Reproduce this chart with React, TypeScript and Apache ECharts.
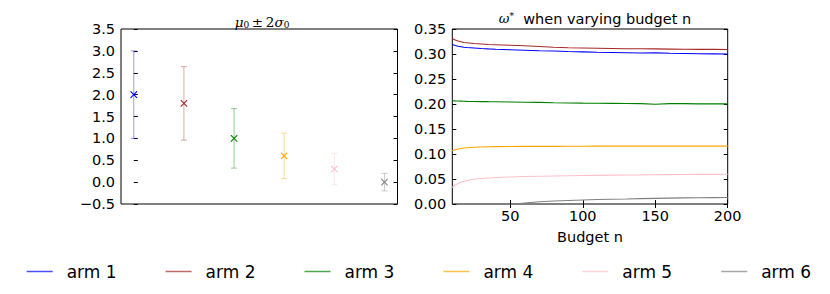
import React, { useEffect, useRef } from "react";
import * as echarts from "echarts";

const arms = ["arm 1", "arm 2", "arm 3", "arm 4", "arm 5", "arm 6"];
const armColors = ["#0000ff", "#a52a2a", "#008000", "#ffa500", "#ffc0cb", "#808080"];

// left panel: mu0 +- 2 sigma0
const mu0 = [2.0, 1.8, 1.0, 0.6, 0.3, 0.0];
const twoSigma0 = [1.0, 0.84, 0.68, 0.52, 0.36, 0.2];

// right panel: omega* vs budget n
const budget = [10, 12, 14, 16, 18, 20, 25, 30, 35, 40, 50, 60, 70, 80, 90, 100, 110, 120, 130, 140, 150, 160, 170, 180, 190, 200];
const omegaArm1 = [0.319, 0.317, 0.3155, 0.3145, 0.3135, 0.313, 0.312, 0.311, 0.3102, 0.3095, 0.3085, 0.3075, 0.3065, 0.306, 0.305, 0.3042, 0.3035, 0.303, 0.3025, 0.302, 0.3022, 0.3015, 0.301, 0.3005, 0.3003, 0.3];
const omegaArm2 = [0.331, 0.328, 0.326, 0.3245, 0.323, 0.3225, 0.321, 0.32, 0.319, 0.3185, 0.3175, 0.3165, 0.315, 0.3135, 0.3125, 0.312, 0.3115, 0.311, 0.3105, 0.3105, 0.3102, 0.3098, 0.3095, 0.3093, 0.3092, 0.309];
const omegaArm3 = [0.2065, 0.2062, 0.206, 0.2058, 0.2055, 0.2053, 0.205, 0.2048, 0.2046, 0.2045, 0.204, 0.2035, 0.2032, 0.2025, 0.202, 0.2017, 0.2015, 0.2013, 0.201, 0.2008, 0.1995, 0.2008, 0.2006, 0.2004, 0.2003, 0.2002];
const omegaArm4 = [0.1065, 0.1085, 0.11, 0.111, 0.112, 0.1125, 0.1135, 0.114, 0.1145, 0.1148, 0.115, 0.1152, 0.1153, 0.1154, 0.1155, 0.1155, 0.1156, 0.1156, 0.1156, 0.1157, 0.1157, 0.1157, 0.1157, 0.1157, 0.1157, 0.1157];
const omegaArm5 = [0.033, 0.038, 0.041, 0.0435, 0.0455, 0.047, 0.0495, 0.051, 0.052, 0.053, 0.054, 0.055, 0.0555, 0.056, 0.0565, 0.057, 0.0573, 0.0577, 0.058, 0.0582, 0.0585, 0.0587, 0.059, 0.0592, 0.0594, 0.0595];
const omegaArm6 = [-0.06, -0.05, -0.043, -0.037, -0.032, -0.028, -0.02, -0.014, -0.01, -0.006, -0.001, 0.002, 0.0045, 0.006, 0.007, 0.008, 0.009, 0.0095, 0.01, 0.0108, 0.0113, 0.0118, 0.0122, 0.0125, 0.0128, 0.013];
const omegaSeries = [omegaArm1, omegaArm2, omegaArm3, omegaArm4, omegaArm5, omegaArm6];

const budgetTicks = [50, 100, 150, 200];

const FONT = "DejaVu Sans";

export default function App() {
  const ref = useRef<HTMLDivElement>(null);
  useEffect(() => {
    if (!ref.current) return;
    const chart = echarts.init(ref.current, null, { renderer: "svg" });

    const tickStyle = { show: true, inside: true, length: 4, lineStyle: { color: "#000", width: 1 } };
    const labelStyle = { fontFamily: FONT, fontSize: 14.5, color: "#000" };

    const errSeries = arms.map((name, k) => ({
      type: "custom",
      name,
      xAxisIndex: 0,
      yAxisIndex: 0,
      itemStyle: { color: armColors[k] },
      clip: true,
      data: [[k, mu0[k], twoSigma0[k]]],
      renderItem: (params: any, api: any) => {
        const x = api.value(0);
        const m = api.value(1);
        const s = api.value(2);
        const pt = api.coord([x, m + s]);
        const pb = api.coord([x, m - s]);
        const pm = api.coord([x, m]);
        const c = armColors[k];
        const faint = { stroke: c, lineWidth: 1, opacity: 0.4 };
        const full = { stroke: c, lineWidth: 1.1 };
        const cw = 3;
        const mw = 3.2;
        return {
          type: "group",
          children: [
            { type: "line", shape: { x1: pt[0], y1: pt[1], x2: pb[0], y2: pb[1] }, style: faint },
            { type: "line", shape: { x1: pt[0] - cw, y1: pt[1], x2: pt[0] + cw, y2: pt[1] }, style: faint },
            { type: "line", shape: { x1: pb[0] - cw, y1: pb[1], x2: pb[0] + cw, y2: pb[1] }, style: faint },
            { type: "line", shape: { x1: pm[0] - mw, y1: pm[1] - mw, x2: pm[0] + mw, y2: pm[1] + mw }, style: full },
            { type: "line", shape: { x1: pm[0] - mw, y1: pm[1] + mw, x2: pm[0] + mw, y2: pm[1] - mw }, style: full },
          ],
        };
      },
    }));

    const lineSeries = arms.map((name, k) => ({
      type: "line",
      name,
      xAxisIndex: 1,
      yAxisIndex: 2,
      showSymbol: false,
      symbol: "none",
      clip: true,
      itemStyle: { color: armColors[k] },
      lineStyle: { color: armColors[k], width: 1.2 },
      data: budget.map((b, i) => [b, omegaSeries[k][i]]),
    }));

    const legendLeft0 = 21.7;
    const legendStep = 138.9;
    const legends = arms.map((name, k) => ({
      data: [name],
      left: legendLeft0 + k * legendStep,
      top: 258,
      icon: "rect",
      itemWidth: 26,
      itemHeight: 1.5,
      itemGap: 0,
      selectedMode: false,
      itemStyle: { opacity: 0.7 },
      textStyle: { fontFamily: FONT, fontSize: 17, color: "#000", padding: [0, 0, 0, 9] },
    }));

    const option: any = {
      animation: false,
      backgroundColor: "#fff",
      textStyle: { fontFamily: FONT },
      title: [
        {
          text: "{i|μ}{s|0}{n|\u2009±\u20092}{i|σ}{s|0}",
          left: 257,
          top: 9,
          textAlign: "center",
          textStyle: {
            fontWeight: "normal",
            rich: {
              i: { fontFamily: "DejaVu Serif", fontStyle: "italic", fontWeight: "normal", fontSize: 13.5, color: "#000" },
              n: { fontFamily: "DejaVu Serif", fontWeight: "normal", fontSize: 13.5, color: "#000" },
              s: { fontFamily: "DejaVu Serif", fontWeight: "normal", fontSize: 9, color: "#000", padding: [6, 0, 0, 0] },
            },
          },
        },
        {
          text: "{i|ω}{sup|*}{n|  when varying budget n}",
          left: 590,
          top: 6,
          textAlign: "center",
          textStyle: {
            fontWeight: "normal",
            rich: {
              i: { fontFamily: "DejaVu Serif", fontStyle: "italic", fontWeight: "normal", fontSize: 13, color: "#000" },
              sup: { fontFamily: "DejaVu Serif", fontWeight: "normal", fontSize: 9, color: "#000", padding: [0, 0, 6, 0] },
              n: { fontFamily: FONT, fontWeight: "normal", fontSize: 14.5, color: "#000" },
            },
          },
        },
      ],
      legend: legends,
      grid: [
        { left: 121, top: 29, width: 276.5, height: 175, show: true, borderColor: "#000", borderWidth: 1, backgroundColor: "transparent" },
        { left: 452.3, top: 29, width: 275.4, height: 175, show: true, borderColor: "#000", borderWidth: 1, backgroundColor: "transparent" },
      ],
      xAxis: [
        {
          gridIndex: 0,
          type: "value",
          min: -0.255,
          max: 5.26,
          axisLine: { show: false },
          axisTick: { show: false },
          axisLabel: { show: false },
          splitLine: { show: false },
        },
        {
          gridIndex: 1,
          type: "value",
          min: 10,
          max: 200,
          position: "bottom",
          axisLine: { show: false },
          axisTick: { ...tickStyle, customValues: budgetTicks },
          axisLabel: { ...labelStyle, margin: 4, customValues: budgetTicks },
          splitLine: { show: false },
          name: "Budget n",
          nameLocation: "middle",
          nameGap: 25,
          nameTextStyle: { fontFamily: FONT, fontSize: 14.5, color: "#000" },
        },
        {
          gridIndex: 1,
          type: "value",
          min: 10,
          max: 200,
          position: "top",
          axisLine: { show: false },
          axisTick: { ...tickStyle, customValues: budgetTicks },
          axisLabel: { show: false },
          splitLine: { show: false },
        },
      ],
      yAxis: [
        {
          gridIndex: 0,
          type: "value",
          min: -0.5,
          max: 3.5,
          interval: 0.5,
          position: "left",
          axisLine: { show: false },
          axisTick: tickStyle,
          axisLabel: {
            ...labelStyle,
            margin: 6,
            formatter: (v: number) => (v < 0 ? "\u2212" + Math.abs(v).toFixed(1) : v.toFixed(1)),
          },
          splitLine: { show: false },
        },
        {
          gridIndex: 0,
          type: "value",
          min: -0.5,
          max: 3.5,
          interval: 0.5,
          position: "right",
          axisLine: { show: false },
          axisTick: tickStyle,
          axisLabel: { show: false },
          splitLine: { show: false },
        },
        {
          gridIndex: 1,
          type: "value",
          min: 0,
          max: 0.35,
          interval: 0.05,
          position: "left",
          axisLine: { show: false },
          axisTick: tickStyle,
          axisLabel: { ...labelStyle, margin: 6, formatter: (v: number) => v.toFixed(2) },
          splitLine: { show: false },
        },
        {
          gridIndex: 1,
          type: "value",
          min: 0,
          max: 0.35,
          interval: 0.05,
          position: "right",
          axisLine: { show: false },
          axisTick: tickStyle,
          axisLabel: { show: false },
          splitLine: { show: false },
        },
      ],
      series: [...errSeries, ...lineSeries],
    };

    chart.setOption(option);
    return () => chart.dispose();
  }, []);

  return (
    <div
      ref={ref}
      style={{ position: "fixed", left: 0, top: 0, width: 830, height: 294, background: "#fff" }}
    />
  );
}
